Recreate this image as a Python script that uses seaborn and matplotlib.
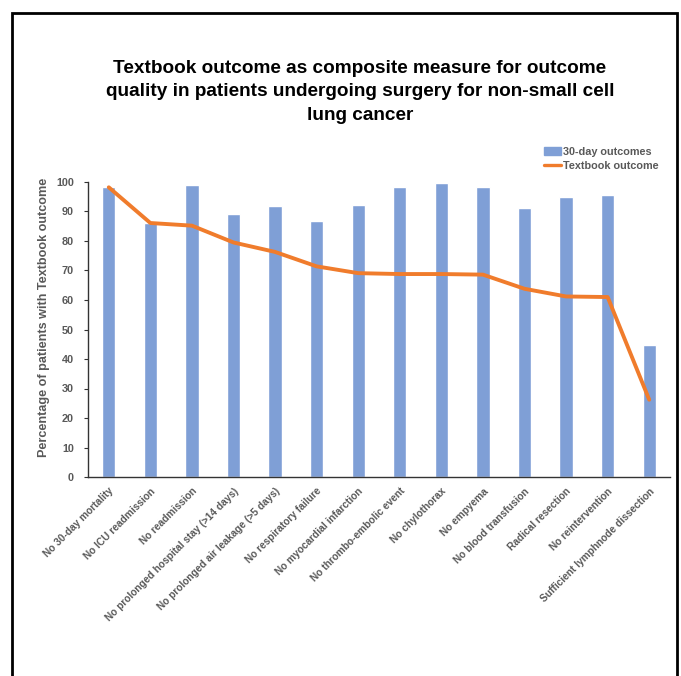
import pandas as pd
import seaborn as sns
from matplotlib import pyplot as plt
from matplotlib.patches import Rectangle
from matplotlib.lines import Line2D

categories = [
    "No 30-day mortality",
    "No ICU readmission",
    "No readmission",
    "No prolonged hospital stay (>14 days)",
    "No prolonged air leakage (>5 days)",
    "No respiratory failure",
    "No myocardial infarction",
    "No thrombo-embolic event",
    "No chylothorax",
    "No empyema",
    "No blood transfusion",
    "Radical resection",
    "No reintervention",
    "Sufficient lymphnode dissection",
]
outcomes_30day = [98.2, 86.2, 99.1, 89.2, 92.0, 86.8, 92.2, 98.4, 99.7, 98.2, 91.3, 94.8, 95.6, 44.7]
textbook = [98.2, 86.1, 85.2, 79.5, 76.3, 71.4, 69.1, 68.8, 68.8, 68.6, 63.8, 61.2, 61.0, 26.2]

BAR_COL = "#7f9fd6"
LINE_COL = "#f07c2c"
TXT_COL = "#595959"

sns.set_style("white")
plt.rcParams['font.family'] = ['Liberation Sans', 'DejaVu Sans']

fig = plt.figure(figsize=(6.81, 6.76), dpi=100)
ax = fig.add_axes([88 / 681, 1 - 477 / 676, 582 / 681, 295 / 676])

df = pd.DataFrame({'Outcome': categories, '30-day outcomes': outcomes_30day,
                   'Textbook outcome': textbook})

sns.barplot(data=df, x='Outcome', y='30-day outcomes', color=BAR_COL,
            width=0.32, saturation=1, ax=ax)
sns.lineplot(data=df, x='Outcome', y='Textbook outcome', color=LINE_COL,
             linewidth=2.8, sort=False, ax=ax, clip_on=False, zorder=3)

ax.set(xlim=(-0.5, 13.5), ylim=(0, 100))
ax.set_yticks(range(0, 101, 10))
ax.set_xlabel("")
ax.set_ylabel("Percentage of patients with Textbook outcome", fontsize=9.1,
              fontweight='bold', color=TXT_COL)
ax.yaxis.set_label_coords(-0.066, 0.54)
ax.set_xticks(range(len(categories)))
ax.set_xticklabels(categories, rotation=45, ha='right', rotation_mode='anchor',
                   fontsize=7.3, fontweight='bold', color=TXT_COL)
for lbl in ax.get_yticklabels():
    lbl.set_fontsize(7.8)
    lbl.set_fontweight('bold')
    lbl.set_color(TXT_COL)
ax.tick_params(axis='y', left=True, length=3, width=0.8, color='#333333', pad=7)
ax.tick_params(axis='x', bottom=False, pad=3)
sns.despine(ax=ax)
for s in ['left', 'bottom']:
    ax.spines[s].set_color('#333333')
    ax.spines[s].set_linewidth(1.0)

handles = [Rectangle((0, 0), 1, 1, color=BAR_COL),
           Line2D([0], [0], color=LINE_COL, linewidth=2.4)]
leg = ax.legend(handles, ['30-day outcomes', 'Textbook outcome'],
                loc='upper left', bbox_to_anchor=(534 / 681, 1 - 137 / 676),
                bbox_transform=fig.transFigure, frameon=False,
                prop={'size': 7.8, 'weight': 'bold'}, handlelength=1.6,
                handletextpad=0.2, labelspacing=0.35)
for t in leg.get_texts():
    t.set_color(TXT_COL)

fig.text(360 / 681, 1 - 92 / 676,
         "Textbook outcome as composite measure for outcome\n"
         "quality in patients undergoing surgery for non-small cell\n"
         "lung cancer",
         ha='center', va='center', fontsize=13.7, fontweight='bold',
         color='black', linespacing=1.5)

fig.patches.append(Rectangle((12 / 681, -0.05), (677 - 12) / 681, 1.05 - 13 / 676,
                             transform=fig.transFigure, fill=False,
                             edgecolor='black', linewidth=2.0))

plt.savefig("out.png", dpi=100)
